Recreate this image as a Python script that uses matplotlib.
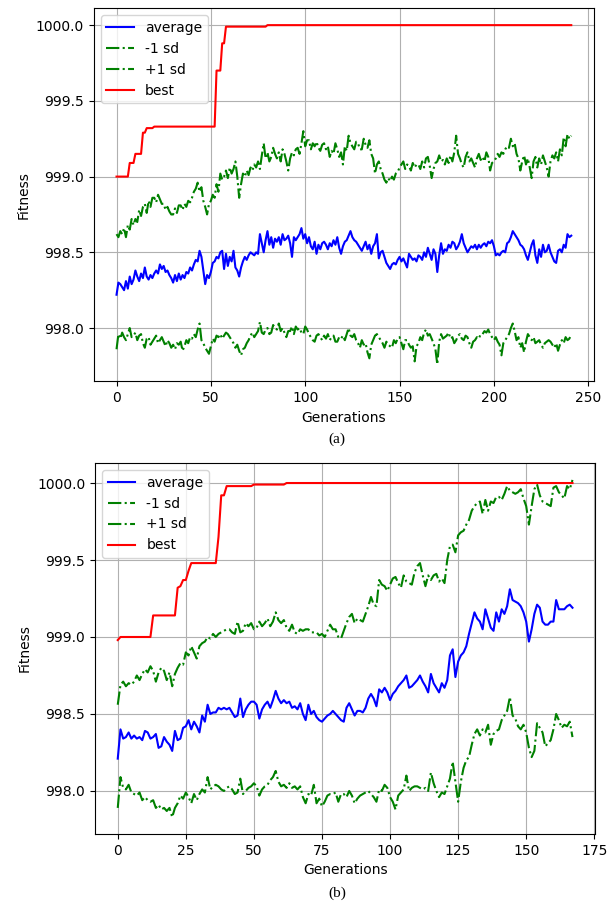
import numpy as np
import matplotlib
matplotlib.use("Agg")
import matplotlib.pyplot as plt

# ---- panel (a): 242 generations ----
avg_a = [
    998.22, 998.30, 998.29, 998.27, 998.25, 998.31, 998.26, 998.34, 998.29, 998.32,
    998.38, 998.34, 998.31, 998.36, 998.33, 998.40, 998.34, 998.32, 998.35, 998.33,
    998.36, 998.38, 998.36, 998.42, 998.39, 998.41, 998.37, 998.38, 998.35, 998.33,
    998.30, 998.35, 998.31, 998.36, 998.32, 998.35, 998.33, 998.37, 998.36, 998.40,
    998.38, 998.42, 998.45, 998.44, 998.51, 998.47, 998.38, 998.29, 998.35, 998.33,
    998.37, 998.43, 998.44, 998.47, 998.46, 998.50, 998.51, 998.39, 998.49, 998.41,
    998.47, 998.44, 998.51, 998.40, 998.38, 998.34, 998.40, 998.44, 998.47, 998.45,
    998.48, 998.50, 998.49, 998.48, 998.50, 998.49, 998.62, 998.56, 998.50, 998.58,
    998.64, 998.55, 998.60, 998.53, 998.59, 998.57, 998.60, 998.55, 998.62, 998.58,
    998.59, 998.61, 998.56, 998.47, 998.60, 998.58, 998.60, 998.62, 998.66, 998.59,
    998.62, 998.56, 998.60, 998.54, 998.52, 998.57, 998.49, 998.55, 998.52, 998.56,
    998.57, 998.55, 998.52, 998.56, 998.54, 998.58, 998.55, 998.60, 998.53, 998.49,
    998.54, 998.57, 998.58, 998.61, 998.64, 998.60, 998.58, 998.57, 998.55, 998.53,
    998.51, 998.54, 998.57, 998.52, 998.55, 998.49, 998.54, 998.56, 998.62, 998.46,
    998.50, 998.51, 998.47, 998.43, 998.41, 998.39, 998.42, 998.43, 998.42, 998.45,
    998.47, 998.44, 998.46, 998.43, 998.40, 998.49, 998.47, 998.45, 998.46, 998.44,
    998.48, 998.47, 998.45, 998.50, 998.47, 998.53, 998.49, 998.45, 998.52, 998.49,
    998.37, 998.48, 998.56, 998.49, 998.52, 998.51, 998.55, 998.53, 998.57, 998.56,
    998.52, 998.54, 998.57, 998.62, 998.56, 998.53, 998.50, 998.52, 998.54, 998.53,
    998.55, 998.52, 998.55, 998.53, 998.55, 998.56, 998.54, 998.57, 998.56, 998.58,
    998.54, 998.48, 998.49, 998.48, 998.50, 998.51, 998.50, 998.56, 998.57, 998.60,
    998.64, 998.62, 998.60, 998.58, 998.55, 998.54, 998.52, 998.48, 998.45, 998.50,
    998.55, 998.58, 998.48, 998.43, 998.52, 998.47, 998.55, 998.50, 998.51, 998.55,
    998.50, 998.47, 998.44, 998.43, 998.51, 998.52, 998.50, 998.55, 998.53, 998.62,
    998.60, 998.61,
]
upper_a = [
    998.62, 998.60, 998.64, 998.62, 998.66, 998.60, 998.68, 998.65, 998.72, 998.68,
    998.72, 998.70, 998.78, 998.74, 998.80, 998.82, 998.76, 998.84, 998.80, 998.86,
    998.86, 998.83, 998.88, 998.85, 998.82, 998.82, 998.78, 998.80, 998.77, 998.75,
    998.75, 998.79, 998.76, 998.81, 998.81, 998.78, 998.82, 998.80, 998.84, 998.83,
    998.86, 998.90, 998.92, 998.96, 998.90, 998.93, 998.84, 998.80, 998.75, 998.82,
    998.84, 998.88, 998.86, 998.95, 998.90, 999.02, 998.98, 999.00, 999.04, 998.99,
    999.06, 999.02, 999.05, 999.10, 999.00, 998.86, 998.95, 999.02, 999.00, 999.04,
    999.01, 999.06, 999.04, 999.08, 999.06, 999.10, 999.05, 999.14, 999.22, 999.12,
    999.16, 999.10, 999.13, 999.19, 999.15, 999.12, 999.16, 999.10, 999.18, 999.15,
    999.10, 999.04, 999.12, 999.16, 999.14, 999.18, 999.19, 999.15, 999.22, 999.30,
    999.20, 999.24, 999.24, 999.18, 999.22, 999.20, 999.23, 999.19, 999.17, 999.21,
    999.22, 999.18, 999.20, 999.13, 999.17, 999.15, 999.22, 999.18, 999.13, 999.16,
    999.08, 999.20, 999.17, 999.27, 999.22, 999.20, 999.18, 999.23, 999.22, 999.18,
    999.18, 999.25, 999.21, 999.19, 999.24, 999.15, 999.12, 999.02, 999.08, 999.10,
    999.05, 999.02, 998.98, 998.96, 998.99, 998.97, 999.00, 998.98, 999.02, 999.03,
    999.06, 999.08, 999.10, 999.05, 999.08, 999.07, 999.04, 999.09, 999.06, 999.08,
    999.08, 999.05, 999.10, 999.06, 999.12, 999.13, 999.07, 998.99, 999.05, 999.09,
    999.10, 999.14, 999.10, 999.11, 999.08, 999.12, 999.09, 999.14, 999.10, 999.16,
    999.27, 999.15, 999.12, 999.08, 999.06, 999.13, 999.16, 999.10, 999.12, 999.09,
    999.06, 999.12, 999.15, 999.11, 999.13, 999.10, 999.16, 999.13, 999.04, 999.09,
    999.10, 999.12, 999.15, 999.13, 999.16, 999.15, 999.18, 999.20, 999.19, 999.25,
    999.20, 999.22, 999.15, 999.12, 999.04, 999.10, 999.14, 999.08, 999.12, 999.06,
    998.99, 999.10, 999.13, 999.06, 999.12, 999.08, 999.14, 999.10, 999.06, 999.00,
    999.10, 999.14, 999.12, 999.16, 999.10, 999.18, 999.14, 999.26, 999.20, 999.28,
    999.25, 999.27,
]
lower_a = [
    997.86, 997.96, 997.93, 997.97, 997.94, 997.92, 997.96, 998.00, 997.94, 997.95,
    997.97, 997.92, 997.95, 997.96, 997.90, 997.87, 997.93, 997.94, 997.89, 997.91,
    997.93, 997.95, 997.90, 997.92, 997.94, 997.91, 997.88, 997.92, 997.90, 997.87,
    997.89, 997.86, 997.90, 997.89, 997.91, 997.85, 997.88, 997.92, 997.90, 997.94,
    997.93, 997.96, 997.94, 997.99, 998.03, 997.92, 997.90, 997.87, 997.85, 997.83,
    997.88, 997.93, 997.91, 997.95, 997.94, 997.96, 997.93, 997.95, 997.97, 997.96,
    997.94, 997.92, 997.90, 997.87, 997.89, 997.85, 997.82, 997.86, 997.87, 997.90,
    997.92, 997.95, 997.97, 997.94, 997.96, 997.98, 998.04, 997.97, 997.96, 997.99,
    998.00, 997.96, 997.97, 998.02, 998.00, 997.99, 998.03, 997.98, 998.00, 997.97,
    997.94, 997.98, 997.98, 998.01, 997.96, 998.01, 997.99, 998.00, 997.97, 997.96,
    998.01, 997.99, 997.96, 997.94, 997.92, 997.91, 997.95, 997.96, 997.94, 997.92,
    997.95, 997.93, 997.96, 997.92, 997.94, 997.95, 997.91, 997.91, 997.94, 997.93,
    997.95, 997.92, 997.96, 998.00, 997.95, 997.94, 997.96, 997.92, 997.90, 997.87,
    997.92, 997.89, 997.90, 997.84, 997.80, 997.89, 997.92, 997.95, 997.96, 997.94,
    997.92, 997.90, 997.87, 997.91, 997.89, 997.88, 997.87, 997.92, 997.90, 997.93,
    997.94, 997.90, 997.86, 997.92, 997.92, 997.89, 997.87, 997.88, 997.78, 997.88,
    997.90, 997.94, 997.92, 997.97, 997.99, 997.95, 997.96, 997.93, 997.90, 997.86,
    997.76, 997.91, 997.96, 997.93, 997.94, 997.95, 997.97, 997.93, 997.94, 997.90,
    997.92, 997.95, 997.96, 997.93, 997.92, 997.95, 997.94, 997.90, 997.87, 997.91,
    997.92, 997.94, 997.93, 997.96, 997.96, 997.98, 997.97, 997.99, 997.96, 997.94,
    997.92, 997.94, 997.91, 997.89, 997.82, 997.90, 997.92, 997.94, 997.96, 998.00,
    998.03, 997.98, 997.92, 997.94, 997.87, 997.90, 997.84, 997.91, 997.96, 997.94,
    997.92, 997.94, 997.90, 997.91, 997.92, 997.89, 997.87, 997.90, 997.91, 997.92,
    997.91, 997.89, 997.87, 997.90, 997.85, 997.89, 997.92, 997.90, 997.94, 997.92,
    997.93, 997.96,
]
# best fitness as (value, number of generations it holds)
best_a_vals = [999.00, 999.09, 999.15, 999.29, 999.32, 999.33, 999.70, 999.88, 999.99, 1000.0]
best_a_runs = [7, 3, 4, 2, 4, 33, 3, 2, 22, 162]

# ---- panel (b): 168 generations ----
avg_b = [
    998.21, 998.40, 998.34, 998.35, 998.38, 998.34, 998.36, 998.34, 998.35, 998.33,
    998.39, 998.38, 998.34, 998.35, 998.37, 998.28, 998.29, 998.35, 998.32, 998.30,
    998.26, 998.39, 998.33, 998.34, 998.41, 998.42, 998.46, 998.40, 998.45, 998.42,
    998.38, 998.49, 998.45, 998.56, 998.50, 998.51, 998.51, 998.54, 998.53, 998.54,
    998.53, 998.54, 998.51, 998.48, 998.49, 998.60, 998.48, 998.53, 998.56, 998.58,
    998.58, 998.56, 998.47, 998.53, 998.56, 998.58, 998.54, 998.59, 998.65, 998.60,
    998.57, 998.59, 998.57, 998.58, 998.54, 998.55, 998.53, 998.57, 998.50, 998.46,
    998.56, 998.50, 998.52, 998.48, 998.46, 998.45, 998.47, 998.49, 998.50, 998.52,
    998.50, 998.48, 998.46, 998.45, 998.54, 998.57, 998.53, 998.49, 998.52, 998.52,
    998.51, 998.54, 998.60, 998.63, 998.60, 998.55, 998.66, 998.64, 998.67, 998.64,
    998.59, 998.63, 998.65, 998.68, 998.70, 998.72, 998.75, 998.67, 998.68, 998.70,
    998.72, 998.75, 998.71, 998.68, 998.64, 998.76, 998.70, 998.67, 998.64, 998.70,
    998.67, 998.72, 998.88, 998.92, 998.74, 998.84, 998.88, 998.90, 998.94, 999.02,
    999.09, 999.16, 999.12, 999.10, 999.05, 999.18, 999.12, 999.06, 999.04, 999.16,
    999.10, 999.18, 999.15, 999.20, 999.31, 999.24, 999.23, 999.22, 999.20, 999.16,
    999.10, 998.97, 999.05, 999.15, 999.21, 999.19, 999.10, 999.08, 999.08, 999.10,
    999.10, 999.24, 999.18, 999.18, 999.18, 999.20, 999.21, 999.19,
]
upper_b = [
    998.56, 998.69, 998.71, 998.68, 998.70, 998.69, 998.71, 998.75, 998.72, 998.76,
    998.79, 998.77, 998.81, 998.78, 998.71, 998.77, 998.80, 998.78, 998.72, 998.77,
    998.68, 998.76, 998.80, 998.83, 998.82, 998.90, 998.88, 998.94, 998.90, 998.86,
    998.94, 998.96, 998.97, 999.00, 998.99, 999.02, 999.00, 999.02, 999.03, 999.04,
    999.05, 999.05, 999.03, 999.02, 999.10, 999.03, 999.04, 999.09, 999.07, 999.09,
    999.05, 999.06, 999.10, 999.07, 999.09, 999.12, 999.07, 999.10, 999.16, 999.11,
    999.09, 999.11, 999.06, 999.04, 999.08, 999.03, 999.02, 999.05, 999.04, 999.05,
    999.05, 999.03, 999.03, 999.03, 999.01, 999.02, 999.00, 999.04, 999.08, 999.05,
    999.05, 999.00, 998.99, 999.04, 999.09, 999.13, 999.15, 999.09, 999.12, 999.11,
    999.10, 999.15, 999.20, 999.26, 999.21, 999.20, 999.37, 999.34, 999.33, 999.30,
    999.34, 999.38, 999.39, 999.35, 999.32, 999.40, 999.36, 999.35, 999.34, 999.42,
    999.46, 999.48, 999.40, 999.33, 999.40, 999.37, 999.40, 999.41, 999.36, 999.38,
    999.35, 999.50, 999.59, 999.60, 999.55, 999.66, 999.68, 999.69, 999.73, 999.76,
    999.82, 999.85, 999.87, 999.88, 999.80, 999.89, 999.82, 999.88, 999.87, 999.91,
    999.91, 999.89, 999.93, 999.98, 999.95, 999.94, 999.93, 999.94, 999.96, 999.90,
    999.85, 999.73, 999.85, 999.96, 999.99, 999.92, 999.88, 999.87, 999.86, 999.85,
    999.97, 999.98, 999.94, 999.92, 999.90, 999.98, 999.96, 1000.02,
]
lower_b = [
    997.89, 998.09, 998.02, 998.01, 998.04, 997.99, 997.98, 997.97, 997.99, 997.94,
    997.96, 997.94, 997.93, 997.94, 997.89, 997.91, 997.88, 997.89, 997.87, 997.89,
    997.83, 997.89, 997.92, 997.97, 997.95, 997.99, 997.96, 997.92, 997.98, 997.94,
    997.98, 998.01, 997.99, 998.09, 998.01, 998.03, 998.04, 998.03, 998.01, 998.00,
    998.02, 998.03, 998.01, 997.98, 997.99, 998.08, 997.98, 998.00, 998.02, 998.03,
    998.05, 998.03, 997.97, 998.01, 998.03, 998.04, 998.07, 998.09, 998.13, 998.06,
    998.03, 998.04, 998.02, 998.05, 998.02, 998.03, 998.01, 998.03, 997.96, 997.92,
    997.98, 997.97, 998.04, 997.92, 997.95, 997.90, 997.93, 997.97, 997.98, 997.98,
    997.99, 997.93, 997.98, 997.98, 997.96, 998.00, 997.97, 997.92, 997.95, 997.97,
    997.98, 997.99, 998.00, 997.98, 997.96, 997.93, 998.01, 998.00, 998.04, 998.02,
    997.96, 997.93, 997.88, 997.97, 997.99, 998.01, 998.10, 998.00, 998.02, 998.03,
    998.03, 998.02, 998.01, 998.02, 998.00, 998.12, 998.05, 998.00, 997.96, 997.99,
    997.98, 998.03, 998.08, 998.19, 998.06, 997.93, 998.06, 998.15, 998.20, 998.22,
    998.30, 998.37, 998.40, 998.36, 998.40, 998.38, 998.43, 998.30, 998.37, 998.39,
    998.40, 998.46, 998.49, 998.52, 998.61, 998.49, 998.47, 998.42, 998.40, 998.43,
    998.38, 998.28, 998.22, 998.26, 998.44, 998.41, 998.38, 998.29, 998.31, 998.33,
    998.40, 998.50, 998.46, 998.41, 998.43, 998.42, 998.45, 998.35,
]
best_b_vals = [998.98, 999.00, 999.14, 999.32, 999.33, 999.37, 999.43, 999.48, 999.65, 999.92, 999.98, 999.99, 1000.0]
best_b_runs = [1, 12, 9, 1, 1, 2, 1, 10, 1, 2, 10, 12, 106]

panels = [
    (avg_a, lower_a, upper_a, np.repeat(best_a_vals, best_a_runs), "(a)"),
    (avg_b, lower_b, upper_b, np.repeat(best_b_vals, best_b_runs), "(b)"),
]

fig = plt.figure(figsize=(6.13, 9.08), dpi=100)
boxes = [[0.153, 0.580, 0.816, 0.411], [0.155, 0.0815, 0.816, 0.4085]]
caption_y = [0.5165, 0.0165]

for (avg, lo, hi, best, cap), box, cy in zip(panels, boxes, caption_y):
    ax = fig.add_axes(box)
    gens = np.arange(len(avg))
    ax.plot(gens, avg, color="blue", label="average")
    ax.plot(gens, lo, color="green", linestyle="-.", label="-1 sd")
    ax.plot(gens, hi, color="green", linestyle="-.", label="+1 sd")
    ax.plot(gens, best, color="red", label="best")
    ax.set_yticks([998.0, 998.5, 999.0, 999.5, 1000.0])
    ax.set_xlabel("Generations")
    ax.set_ylabel("Fitness")
    ax.grid(True)
    ax.legend(loc="upper left")
    fig.text(0.55, cy, cap, family="Liberation Serif", fontsize=11, ha="center", va="center")

fig.savefig("out.png", dpi=100)
